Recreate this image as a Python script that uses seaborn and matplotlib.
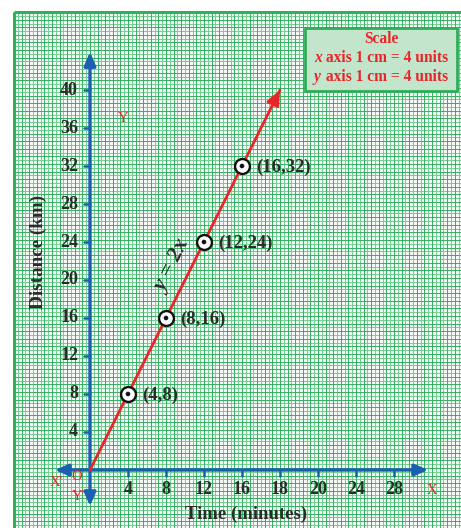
import numpy as np
import pandas as pd
import matplotlib
matplotlib.use("Agg")
import matplotlib.pyplot as plt
import seaborn as sns
from matplotlib.patches import Rectangle

# ---- data ----
point_x = [4, 8, 12, 16]
point_y = [8, 16, 24, 32]
point_labels = ["(4,8)", "(8,16)", "(12,24)", "(16,32)"]
line_x = [0, 20]
line_y = [0, 40]
x_ticks = [4, 8, 12, 16, 20, 24, 28, 32]
x_tick_labels = ["4", "8", "12", "16", "18", "20", "24", "28"]
y_ticks = [4, 8, 12, 16, 20, 24, 28, 32, 36, 40]
y_tick_labels = ["4", "8", "12", "16", "20", "24", "28", "32", "36", "40"]

sns.set_style("white")
plt.rcParams["font.family"] = ["Liberation Serif", "DejaVu Serif"]

SERIF = "Liberation Serif"
BLUE = "#1b5fb3"
RED = "#e8262a"
GREEN = "#33b15a"
TXT = "#2b2b2b"

fig = plt.figure(figsize=(4.61, 5.28), dpi=100)
ax = fig.add_axes([0, 0, 1, 1])
ax.set_xlim(-90 / 9.5, 371 / 9.5)
ax.set_ylim(-58 / 9.5, 470 / 9.5)
ax.axis("off")

# ---- graph paper ----
x0p, y1p = -8.0, 48.2
ax.add_patch(Rectangle((x0p, -10), 60, y1p + 10, facecolor="#f4fbf6", edgecolor="none", zorder=0))
gx = np.arange(x0p, 40, 0.4)
gy = np.arange(y1p, -8, -0.4)
ax.vlines(gx, -10, y1p, color="#72cf92", lw=0.7, zorder=1)
ax.hlines(gy, x0p, 40, color="#72cf92", lw=0.7, zorder=1)
ax.vlines(np.arange(x0p, 40, 0.8), -10, y1p, color="#2fae5c", lw=0.6, zorder=1)
ax.hlines(np.arange(y1p, -8, -0.8), x0p, 40, color="#2fae5c", lw=0.6, zorder=1)
ax.plot([x0p, x0p], [-10, y1p], color=GREEN, lw=2.2, zorder=2, solid_capstyle="butt")
ax.plot([x0p, 40], [y1p, y1p], color=GREEN, lw=2.2, zorder=2, solid_capstyle="butt")

# ---- axes (blue) ----
ap = dict(arrowstyle="-|>,head_length=0.8,head_width=0.35", color=BLUE, lw=2.4, shrinkA=0, shrinkB=0)
ax.annotate("", xy=(35.6, 0), xytext=(0, 0), arrowprops=ap, zorder=3)
ax.annotate("", xy=(-3.7, 0), xytext=(0, 0), arrowprops=ap, zorder=3)
ax.annotate("", xy=(0, 44.0), xytext=(0, 0), arrowprops=ap, zorder=3)
ax.annotate("", xy=(0, -3.8), xytext=(0, 0), arrowprops=ap, zorder=3)

for t, lab in zip(x_ticks, x_tick_labels):
    ax.plot([t, t], [0, -0.65], color=BLUE, lw=1.8, zorder=3)
    ax.text(t, -2.0, lab, ha="center", va="center", fontsize=13, fontweight="bold",
            color=TXT, family=SERIF, zorder=4)
for t, lab in zip(y_ticks, y_tick_labels):
    ax.plot([-0.65, 0], [t, t], color=BLUE, lw=1.8, zorder=3)
    ax.text(-1.25, t, lab, ha="right", va="center", fontsize=13, fontweight="bold",
            color=TXT, family=SERIF, zorder=4)

# axis titles
ax.text((246 - 90) / 9.5, (470 - 514) / 9.5, "Time (minutes)", ha="center", va="center",
        fontsize=13.5, fontweight="bold", color=TXT, family=SERIF, zorder=4)
ax.text((38 - 90) / 9.5, (470 - 252) / 9.5, "Distance (km)", ha="center", va="center",
        rotation=90, fontsize=13.8, fontweight="bold", color=TXT, family=SERIF, zorder=4)

# red axis letters
def px(xp, yp):
    return (xp - 90) / 9.5, (470 - yp) / 9.5
for (xp, yp), s in [((56, 482), "X'"), ((77, 477), "O"), ((78, 496), "Y'"),
                    ((432, 490), "X"), ((123, 118), "Y")]:
    x, y = px(xp, yp)
    ax.text(x, y, s, ha="center", va="center", fontsize=10.5, color=RED, family=SERIF, zorder=4)

# ---- the line y = 2x ----
df_line = pd.DataFrame({"x": line_x, "y": line_y})
sns.lineplot(data=df_line, x="x", y="y", ax=ax, color=RED, lw=2.0, zorder=5)
ax.annotate("", xy=(line_x[1], line_y[1]), xytext=(line_x[1] - 0.8, line_y[1] - 1.6),
            arrowprops=dict(arrowstyle="-|>,head_length=0.9,head_width=0.4", color=RED, lw=2.0,
                            shrinkA=0, shrinkB=0), zorder=5)

# ---- points ----
df_pts = pd.DataFrame({"x": point_x, "y": point_y})
sns.scatterplot(data=df_pts, x="x", y="y", ax=ax, s=115, color="white", edgecolor="#111111",
                linewidth=1.7, zorder=6, legend=False)
sns.scatterplot(data=df_pts, x="x", y="y", ax=ax, s=11, color="#111111", edgecolor="none",
                zorder=7, legend=False)
for x, y, lab in zip(point_x, point_y, point_labels):
    ax.text(x + 1.5, y - 0.15, lab, ha="left", va="center", fontsize=13.5, fontweight="bold",
            color=TXT, family=SERIF, zorder=7)

ax.text(8.75, 21.4, "y = 2x", ha="center", va="center", rotation=63.4, fontsize=16,
        fontweight="bold", fontstyle="italic", color=TXT, family=SERIF, zorder=7)

# ---- scale box ----
bx0, by0 = px(305, 91)
bx1, by1 = px(457, 28)
ax.add_patch(Rectangle((bx0, by0), bx1 - bx0, by1 - by0, facecolor="#c2e5cb",
                       edgecolor="#2eae58", lw=2.0, zorder=8))
cx = (bx0 + bx1) / 2
for yp, parts in [(39, [("Scale", "normal")]),
                  (58, [("x", "italic"), (" axis 1 cm = 4 units", "normal")]),
                  (77, [("y", "italic"), (" axis 1 cm = 4 units", "normal")])]:
    _, y = px(0, yp)
    if len(parts) == 1:
        ax.text(cx, y, parts[0][0], ha="center", va="center", fontsize=11.2, fontweight="bold",
                color=RED, family=SERIF, zorder=9)
    else:
        ax.text(cx - 7.05, y, parts[0][0], ha="left", va="center", fontsize=11.2, fontweight="bold",
                fontstyle="italic", color=RED, family=SERIF, zorder=9)
        ax.text(cx - 6.2, y, parts[1][0], ha="left", va="center", fontsize=11.2, fontweight="bold",
                color=RED, family=SERIF, zorder=9)

fig.savefig("out.png", dpi=100)
